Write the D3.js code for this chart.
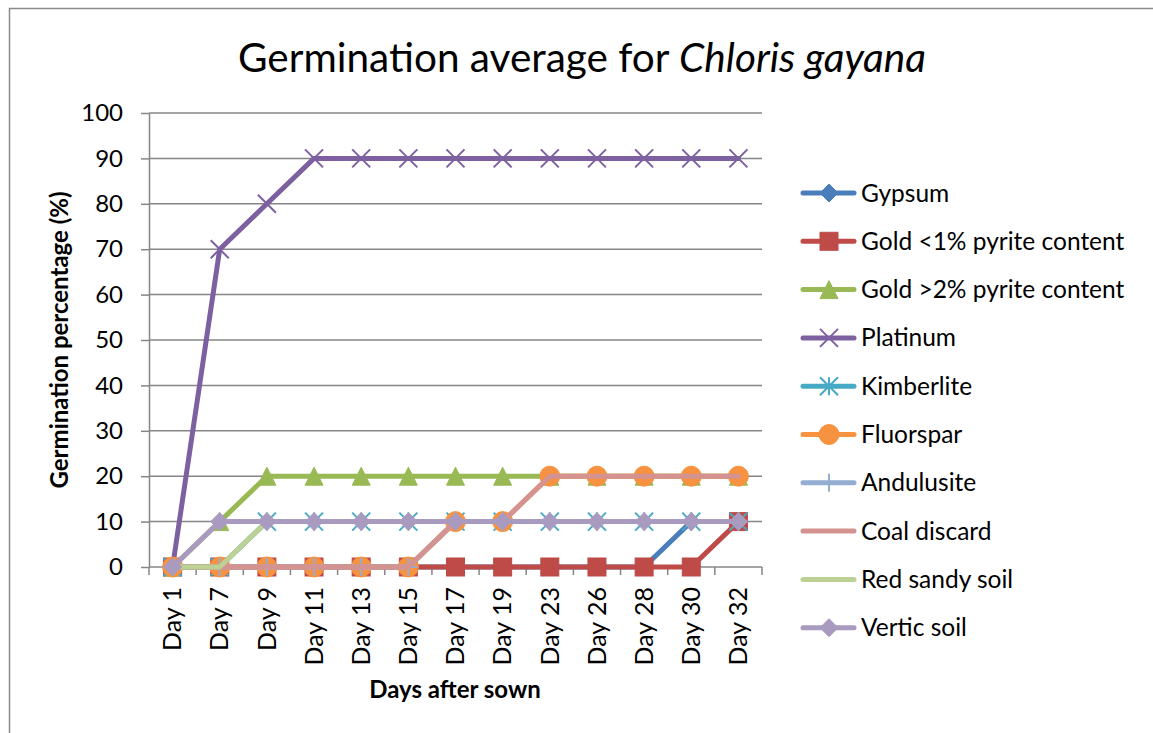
<!DOCTYPE html>
<html>
<head>
<meta charset="utf-8">
<script src="https://cdn.jsdelivr.net/npm/d3@7"></script>
<style>
  body { margin: 0; background: #fff; }
  text { font-family: Lato, "Open Sans", sans-serif; fill: #000; }
</style>
</head>
<body>
<div id="chart"></div>
<script>

var days = ["Day 1", "Day 7", "Day 9", "Day 11", "Day 13", "Day 15", "Day 17",
            "Day 19", "Day 23", "Day 26", "Day 28", "Day 30", "Day 32"];

var yTicks = [0, 10, 20, 30, 40, 50, 60, 70, 80, 90, 100];

var names = ["Gypsum", "Gold <1% pyrite content", "Gold >2% pyrite content", "Platinum",
             "Kimberlite", "Fluorspar", "Andulusite", "Coal discard", "Red sandy soil", "Vertic soil"];

var gypsum     = [0, 0, 0, 0, 0, 0, 0, 0, 0, 0, 0, 10, 10];
var gold1      = [0, 0, 0, 0, 0, 0, 0, 0, 0, 0, 0, 0, 10];
var gold2      = [0, 10, 20, 20, 20, 20, 20, 20, 20, 20, 20, 20, 20];
var platinum   = [0, 70, 80, 90, 90, 90, 90, 90, 90, 90, 90, 90, 90];
var kimberlite = [0, 0, 10, 10, 10, 10, 10, 10, 10, 10, 10, 10, 10];
var fluorspar  = [0, 0, 0, 0, 0, 0, 10, 10, 20, 20, 20, 20, 20];
var andulusite = [0, 0, 0, 0, 0, 0, 10, 10, 10, 10, 10, 10, 10];
var coal       = [0, 0, 0, 0, 0, 0, 10, 10, 20, 20, 20, 20, 20];
var redsandy   = [0, 0, 10, 10, 10, 10, 10, 10, 10, 10, 10, 10, 10];
var vertic     = [0, 10, 10, 10, 10, 10, 10, 10, 10, 10, 10, 10, 10];

var colors  = ["#4A7EBB", "#BE4B48", "#98B954", "#7D60A0", "#46AAC5",
               "#F69240", "#94AED3", "#D49391", "#BCD193", "#A99BC0"];
var markers = ["diamond", "square", "triangle", "x", "star", "circle", "plus", "none", "none", "diamond"];

var values = [gypsum, gold1, gold2, platinum, kimberlite, fluorspar, andulusite, coal, redsandy, vertic];

var width = 1153, height = 733;
var plotLeft = 149, plotRight = 762, plotTop = 113, plotBottom = 567;
var gridColor = "#868686";

var svg = d3.select("#chart").append("svg")
    .attr("width", width)
    .attr("height", height);

// chart frame (runs off the right and bottom of the picture)
svg.append("rect")
    .attr("x", 9.5).attr("y", 8.5)
    .attr("width", 1160).attr("height", 760)
    .style("fill", "none")
    .style("stroke", "#8a8a8a")
    .style("stroke-width", 1.5);

var xScale = d3.scaleBand().domain(days).range([plotLeft, plotRight]);
var yScale = d3.scaleLinear().domain([0, 100]).range([plotBottom, plotTop]);

// horizontal gridlines
svg.append("g").selectAll("line").data(yTicks.slice(1))
    .enter().append("line")
    .attr("x1", plotLeft).attr("x2", plotRight)
    .attr("y1", function (d) { return yScale(d); })
    .attr("y2", function (d) { return yScale(d); })
    .style("stroke", gridColor)
    .style("stroke-width", 1.5);

// y axis
var yAxis = svg.append("g")
    .attr("transform", "translate(" + plotLeft + ",0)")
    .call(d3.axisLeft(yScale).tickValues(yTicks).tickSizeInner(8).tickSizeOuter(0).tickPadding(18));
yAxis.select(".domain").style("stroke", gridColor).style("stroke-width", 1.5);
yAxis.selectAll(".tick line").style("stroke", gridColor).style("stroke-width", 1.5);
yAxis.selectAll("text").style("font-size", "24px").style("font-family", "Lato, sans-serif");

// x axis: ticks between categories
svg.append("line")
    .attr("x1", plotLeft).attr("x2", plotRight)
    .attr("y1", plotBottom).attr("y2", plotBottom)
    .style("stroke", gridColor).style("stroke-width", 1.5);

var boundaries = days.map(function (d) { return xScale(d); }).concat([plotRight]);
svg.append("g").selectAll("line").data(boundaries)
    .enter().append("line")
    .attr("x1", function (d) { return d; })
    .attr("x2", function (d) { return d; })
    .attr("y1", plotBottom).attr("y2", plotBottom + 8)
    .style("stroke", gridColor).style("stroke-width", 1.5);

var bw = xScale.bandwidth();
svg.append("g").selectAll("text").data(days)
    .enter().append("text")
    .attr("transform", function (d) {
        return "translate(" + (xScale(d) + bw / 2) + "," + (plotBottom + 20) + ") rotate(-90)";
    })
    .attr("dy", "0.35em")
    .attr("text-anchor", "end")
    .style("font-size", "25px")
    .text(function (d) { return d; });

// axis titles
svg.append("text")
    .attr("x", 455).attr("y", 698)
    .attr("text-anchor", "middle")
    .style("font-size", "24px").style("font-weight", "bold")
    .text("Days after sown");

svg.append("text")
    .attr("transform", "translate(68," + ((plotTop + plotBottom) / 2) + ") rotate(-90)")
    .attr("text-anchor", "middle")
    .style("font-size", "24px").style("font-weight", "bold")
    .text("Germination percentage (%)");

// title
var title = svg.append("text")
    .attr("x", 582).attr("y", 72)
    .attr("text-anchor", "middle")
    .style("font-size", "40.5px");
title.append("tspan").text("Germination average for ");
title.append("tspan").style("font-style", "italic").text("Chloris gayana");

// markers
function drawMarker(g, type, cx, cy, color) {
    var s = 9;
    if (type == "diamond") {
        g.append("path")
            .attr("d", "M" + cx + "," + (cy - s) + "L" + (cx + s) + "," + cy + "L" + cx + "," + (cy + s) + "L" + (cx - s) + "," + cy + "Z")
            .style("fill", color).style("stroke", color);
    } else if (type == "square") {
        g.append("rect")
            .attr("x", cx - s).attr("y", cy - s)
            .attr("width", 2 * s).attr("height", 2 * s)
            .style("fill", color).style("stroke", color);
    } else if (type == "triangle") {
        g.append("path")
            .attr("d", "M" + cx + "," + (cy - s) + "L" + (cx + s) + "," + (cy + s) + "L" + (cx - s) + "," + (cy + s) + "Z")
            .style("fill", color).style("stroke", color);
    } else if (type == "circle") {
        g.append("circle")
            .attr("cx", cx).attr("cy", cy).attr("r", s + 1)
            .style("fill", color).style("stroke", color);
    } else if (type == "x") {
        g.append("path")
            .attr("d", "M" + (cx - s) + "," + (cy - s) + "L" + (cx + s) + "," + (cy + s) + "M" + (cx + s) + "," + (cy - s) + "L" + (cx - s) + "," + (cy + s))
            .style("fill", "none").style("stroke", color).style("stroke-width", 2);
    } else if (type == "star") {
        g.append("path")
            .attr("d", "M" + (cx - s) + "," + (cy - s) + "L" + (cx + s) + "," + (cy + s) + "M" + (cx + s) + "," + (cy - s) + "L" + (cx - s) + "," + (cy + s) +
                "M" + cx + "," + (cy - s) + "L" + cx + "," + (cy + s))
            .style("fill", "none").style("stroke", color).style("stroke-width", 2);
    } else if (type == "plus") {
        g.append("path")
            .attr("d", "M" + cx + "," + (cy - s) + "L" + cx + "," + (cy + s) + "M" + (cx - s) + "," + cy + "L" + (cx + s) + "," + cy)
            .style("fill", "none").style("stroke", color).style("stroke-width", 2);
    }
}

var lineGenerator = d3.line()
    .x(function (d, i) { return xScale(days[i]) + bw / 2; })
    .y(function (d) { return yScale(d); });

// series, drawn in order so later ones sit on top
values.forEach(function (vals, k) {
    var g = svg.append("g");
    g.append("path")
        .attr("d", lineGenerator(vals))
        .style("fill", "none")
        .style("stroke", colors[k])
        .style("stroke-width", 5)
        .style("stroke-linejoin", "round")
        .style("stroke-linecap", "round");
    vals.forEach(function (v, i) {
        drawMarker(g, markers[k], xScale(days[i]) + bw / 2, yScale(v), colors[k]);
    });
});

// legend
var legend = svg.append("g");
names.forEach(function (name, k) {
    var ly = 193 + k * 48.3;
    legend.append("line")
        .attr("x1", 803).attr("x2", 854)
        .attr("y1", ly).attr("y2", ly)
        .style("stroke", colors[k])
        .style("stroke-width", 5)
        .style("stroke-linecap", "round");
    drawMarker(legend, markers[k], 829, ly, colors[k]);
    legend.append("text")
        .attr("x", 861).attr("y", ly)
        .attr("dy", "0.35em")
        .style("font-size", "24.5px")
        .text(name);
});

</script>
</body>
</html>
